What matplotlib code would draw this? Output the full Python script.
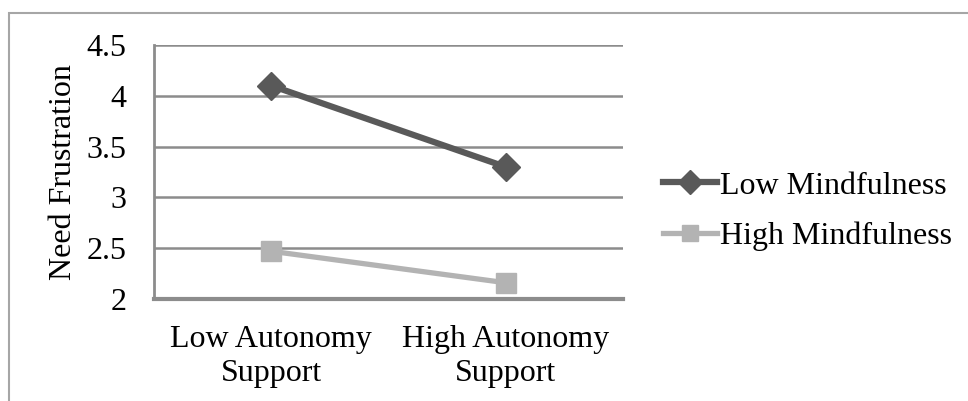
import matplotlib
matplotlib.use("Agg")
import matplotlib.pyplot as plt
from matplotlib.patches import Rectangle

# data
categories = ["Low Autonomy\nSupport", "High Autonomy\nSupport"]
low_mindfulness = [4.10, 3.30]
high_mindfulness = [2.47, 2.16]
y_ticks = [2, 2.5, 3, 3.5, 4, 4.5]
y_tick_labels = ["2", "2.5", "3", "3.5", "4", "4.5"]

plt.rcParams["font.family"] = ["Liberation Serif", "DejaVu Serif"]
plt.rcParams["font.size"] = 23

W, H = 968, 401
fig = plt.figure(figsize=(W / 100, H / 100), dpi=100)
ax = fig.add_axes([154 / W, 1 - 299 / H, 469 / W, 254 / H])

x = list(range(len(categories)))
ax.plot(x, low_mindfulness, color="#595959", lw=4.5, marker="D", ms=14,
        mec="#595959", mfc="#595959", label="Low Mindfulness", zorder=3)
ax.plot(x, high_mindfulness, color="#b3b3b3", lw=3.8, marker="s", ms=14,
        mec="#b3b3b3", mfc="#b3b3b3", label="High Mindfulness", zorder=3)

ax.set_xlim(-0.5, 1.5)
ax.set_ylim(2, 4.5)
ax.set_yticks(y_ticks)
ax.set_yticklabels(y_tick_labels)
ax.set_xticks(x)
ax.set_xticklabels(categories, linespacing=1.22)
ax.tick_params(axis="y", length=0, pad=20)
ax.tick_params(axis="x", length=0, pad=19)

ax.yaxis.grid(True, color="#8c8c8c", lw=1.8)
ax.set_axisbelow(True)
for s in ["top", "right"]:
    ax.spines[s].set_visible(False)
ax.spines["left"].set_color("#8c8c8c")
ax.spines["left"].set_linewidth(2.0)
ax.spines["bottom"].set_color("#8c8c8c")
ax.spines["bottom"].set_linewidth(3.0)

ax.set_ylabel("Need Frustration")
ax.yaxis.set_label_coords(-0.162, 0.5)

fig.legend(loc="center left", bbox_to_anchor=(663 / W, 1 - 211 / H),
           frameon=False, handlelength=1.7, handletextpad=0.1,
           labelspacing=0.65, borderpad=0, borderaxespad=0, markerscale=0.85)

# outer chart border (cut off on the right and bottom)
fig.patches.append(Rectangle((9 / W, -0.1), 1.2, 1 - 13 / H + 0.1,
                             transform=fig.transFigure, fill=False,
                             ec="#a6a6a6", lw=1.5))

fig.savefig("out.png", dpi=100)
